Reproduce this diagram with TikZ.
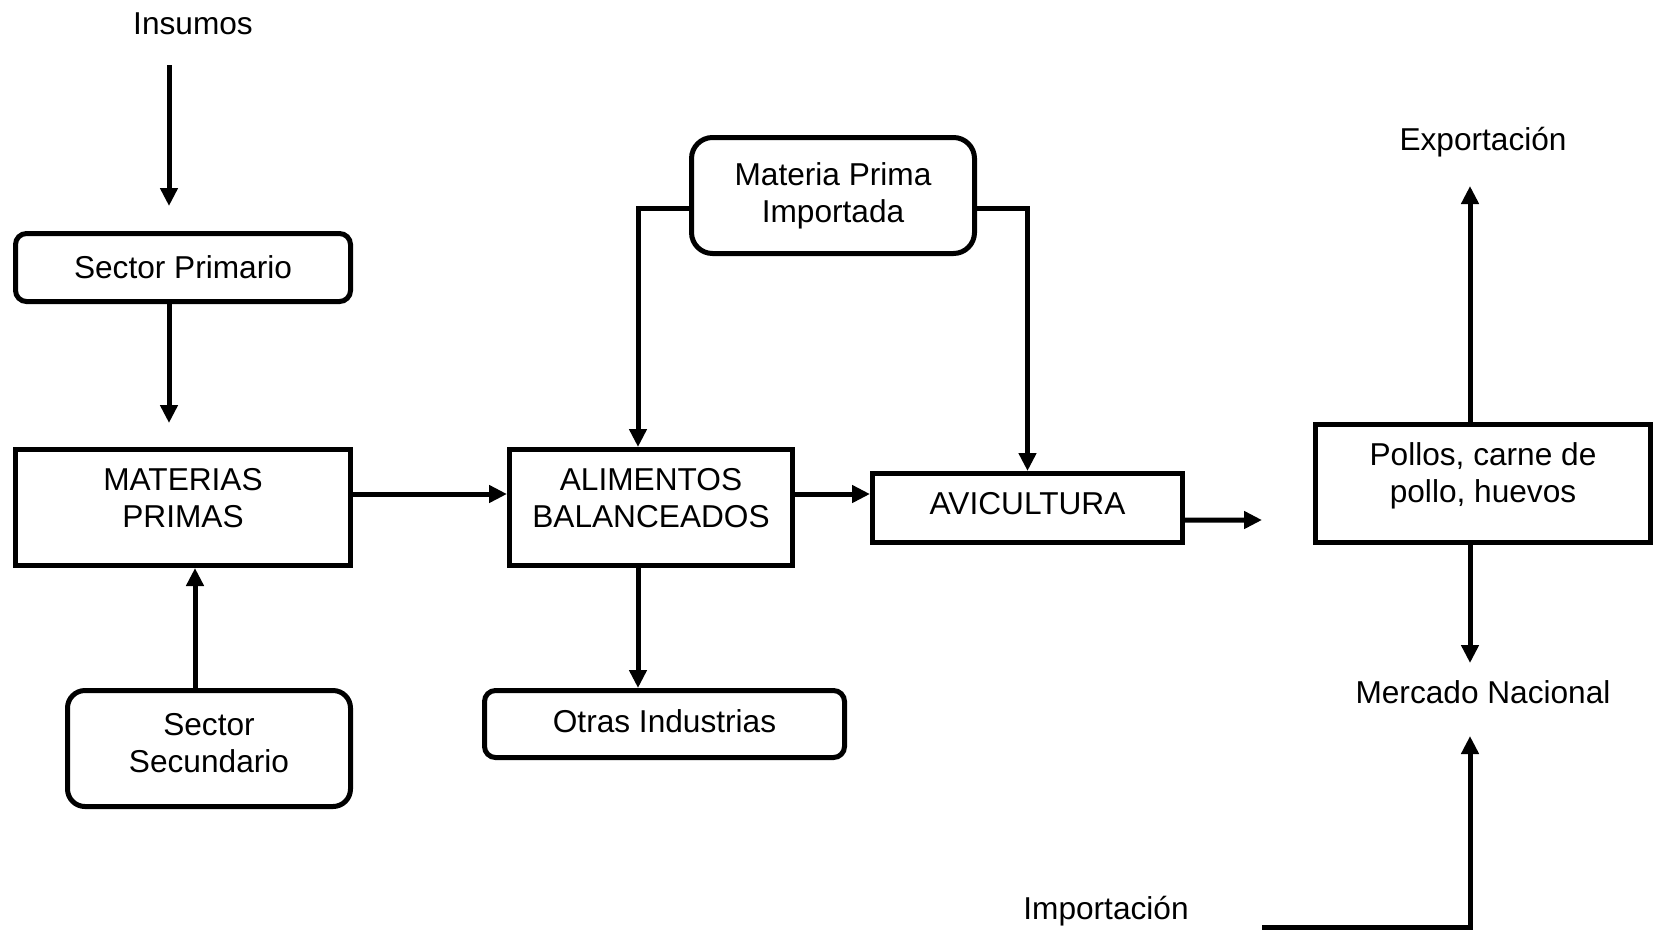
\documentclass[tikz,border=0pt]{standalone}
\usepackage{fontspec}
\setmainfont{Liberation Sans}
\usetikzlibrary{arrows.meta}
\newcommand{\lowstrut}[1]{\rule[-#1]{0pt}{0pt}}
\begin{document}
\begin{tikzpicture}[
 line width=0.1cm,
 >={Triangle[length=0.36cm,width=0.34cm]},
 align=center,
 inner sep=1mm,
 font=\fontsize{18}{21}\selectfont,
 box/.style={draw=black,rectangle},
 rbox/.style={draw=black,rectangle,rounded corners=0.22cm},
 label/.style={inner sep=0pt}
]
\useasboundingbox (0,0) rectangle (33.12,-18.58);
\node (insumos-label) [label] at (3.86,-0.48) {Insumos};
\node (primario-box) [rbox,minimum width=6.7cm,minimum height=1.36cm] at (3.66,-5.35) {Sector Primario};
\node (materias-box) [box,minimum width=6.7cm,minimum height=2.32cm] at (3.66,-10.15) {MATERIAS\\PRIMAS\lowstrut{0.38cm}};
\node (secundario-box) [rbox,rounded corners=0.35cm,minimum width=5.66cm,minimum height=2.32cm] at (4.18,-14.97) {Sector\\Secundario\lowstrut{0.21cm}};
\node (alimentos-box) [box,minimum width=5.66cm,minimum height=2.32cm] at (13.02,-10.15) {ALIMENTOS\\BALANCEADOS\lowstrut{0.38cm}};
\node (avicultura-box) [box,minimum width=6.2cm,minimum height=1.38cm] at (20.55,-10.16) {AVICULTURA\lowstrut{0.17cm}};
\node (importada-box) [rbox,rounded corners=0.42cm,minimum width=5.66cm,minimum height=2.32cm] at (16.66,-3.91) {Materia Prima\\Importada};
\node (otras-box) [rbox,minimum width=7.2cm,minimum height=1.34cm] at (13.29,-14.48) {Otras Industrias\lowstrut{0.13cm}};
\node (pollos-box) [box,minimum width=6.7cm,minimum height=2.36cm] at (29.66,-9.67) {Pollos, carne de\\pollo, huevos\lowstrut{0.43cm}};
\node (exportacion-label) [label] at (29.66,-2.84) {Exportación};
\node (mercado-label) [label] at (29.66,-13.84) {Mercado Nacional};
\node (importacion-label) [label] at (22.12,-18.22) {Importación};
% free ends
\coordinate (insumos-start) at (3.38,-1.30);
\coordinate (avicultura-end) at (25.24,-10.40);
\coordinate (exportacion-end) at (29.40,-3.72);
\coordinate (mercado-end) at (29.40,-13.26);
\coordinate (importacion-start) at (25.24,-18.54);
\coordinate (importacion-end) at (29.40,-14.72);
% left column
\draw[->,shorten >=0.5cm] (insumos-start) -- (insumos-start |- primario-box.north);
\draw[->,shorten >=0.48cm] (insumos-start |- primario-box.south) -- (insumos-start |- materias-box.north);
\draw[->] ([xshift=-0.28cm]secundario-box.north) -- ([xshift=-0.28cm]secundario-box.north |- materias-box.south);
\draw[->] ([yshift=0.27cm]materias-box.east) -- ([yshift=0.27cm]alimentos-box.west);
% middle
\draw[->] ([yshift=0.27cm]alimentos-box.east) -- ([yshift=0.27cm]alimentos-box.east -| avicultura-box.west);
\draw[->] ([yshift=-0.25cm]importada-box.west) -| ([xshift=-0.26cm]alimentos-box.north);
\draw[->] ([yshift=-0.25cm]importada-box.east) -| (avicultura-box.north);
\draw[->] ([xshift=-0.26cm]alimentos-box.south) -- ([xshift=-0.26cm]alimentos-box.south |- otras-box.north);
% right column
\draw[->] ([yshift=-0.24cm]avicultura-box.east) -- (avicultura-end);
\draw[->] (exportacion-end |- pollos-box.north) -- (exportacion-end);
\draw[->] (mercado-end |- pollos-box.south) -- (mercado-end);
\draw[->] (importacion-start) -| (importacion-end);
\end{tikzpicture}
\end{document}
